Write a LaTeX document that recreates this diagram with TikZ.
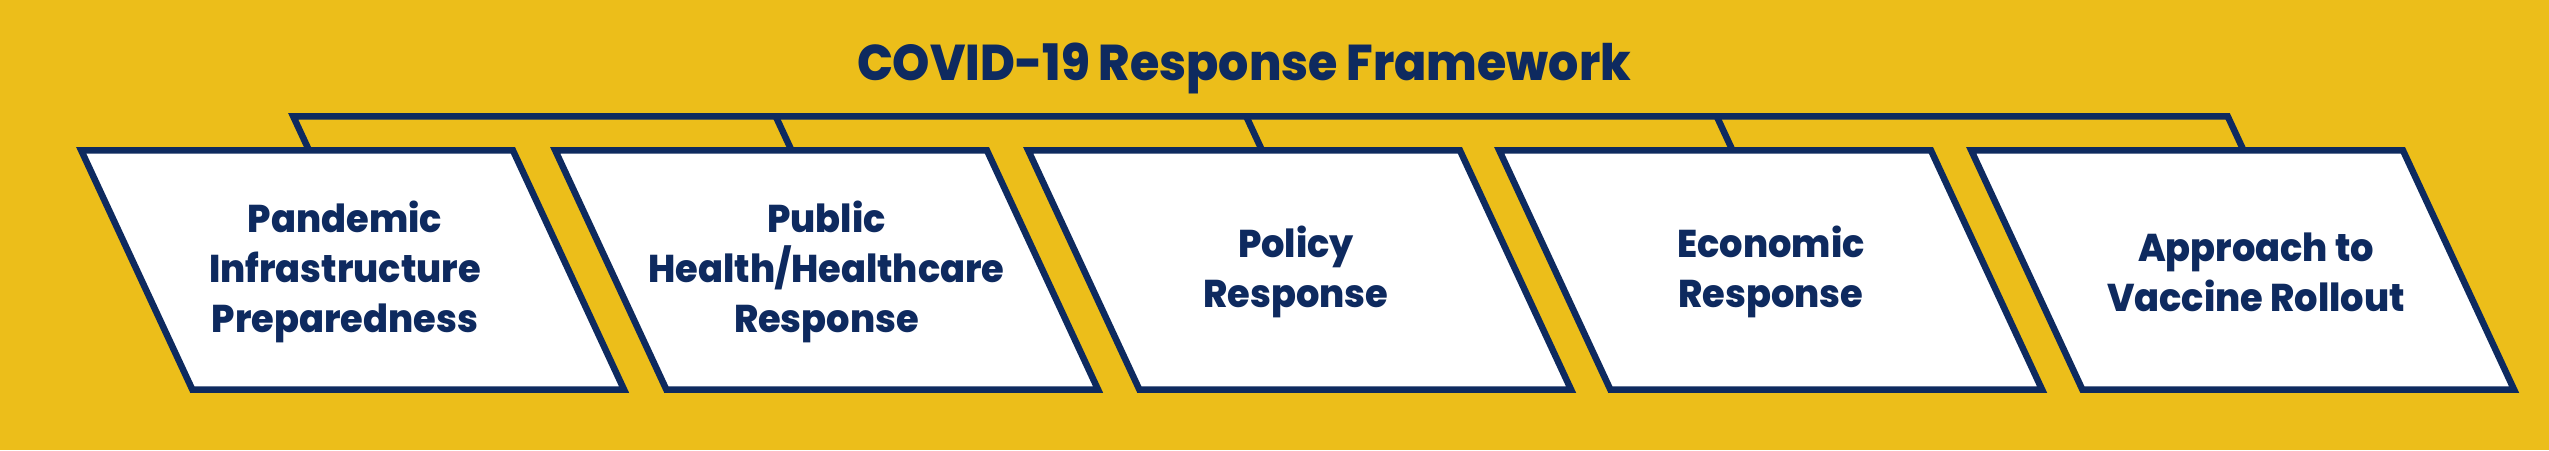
\documentclass[tikz,border=0pt]{standalone}
\usepackage{fontspec}
\setmainfont{Poppins}
\newfontfamily\pillarfont{Poppins ExtraBold}[FakeStretch=0.95]
\newfontfamily\headfont{Poppins ExtraBold}[FakeStretch=0.944]
\definecolor{covidgold}{HTML}{ECBE1A}
\definecolor{covidnavy}{HTML}{0E2A5F}
\tikzset{
  pillar/.style={draw=covidnavy, line width=1.85pt, fill=white},
  link/.style={draw=covidnavy, line width=1.85pt},
  pillartext/.style={text=covidnavy, align=center,
    font=\pillarfont\fontsize{11}{14.2}\selectfont},
  headtext/.style={text=covidnavy, font=\headfont\fontsize{14.3}{16}\selectfont}
}
\begin{document}
\begin{tikzpicture}[x=0.01cm, y=-0.01cm]
\useasboundingbox (0,0) rectangle (2549,450);
\fill[covidgold] (0,0) rectangle (2549,450);

\node[headtext, anchor=base] (title) at (1244, 80) {COVID-19 Response Framework};

\coordinate (bar1) at (293.2, 116.3);
\coordinate (bar2) at (775.7, 116.3);
\coordinate (bar3) at (1246.2, 116.3);
\coordinate (bar4) at (1716.7, 116.3);
\coordinate (bar5) at (2227.7, 116.3);
\coordinate (top1) at (309, 150.3);
\coordinate (top2) at (791.5, 150.3);
\coordinate (top3) at (1262, 150.3);
\coordinate (top4) at (1732.5, 150.3);
\coordinate (top5) at (2243.5, 150.3);

\draw[link] (top1) -- (bar1) -- (bar5) -- (top5);
\draw[link] (bar2) -- (top2);
\draw[link] (bar3) -- (top3);
\draw[link] (bar4) -- (top4);

\draw[pillar] (81.2, 150.3) -- ++(431.7, 0) -- ++(111.2, 239.4) -- ++(-431.7, 0) -- cycle;
\draw[pillar] (555.2, 150.3) -- ++(431.7, 0) -- ++(111.2, 239.4) -- ++(-431.7, 0) -- cycle;
\draw[pillar] (1028.2, 150.3) -- ++(431.7, 0) -- ++(111.2, 239.4) -- ++(-431.7, 0) -- cycle;
\draw[pillar] (1499.2, 150.3) -- ++(431.7, 0) -- ++(111.2, 239.4) -- ++(-431.7, 0) -- cycle;
\draw[pillar] (1971.2, 150.3) -- ++(431.7, 0) -- ++(111.2, 239.4) -- ++(-431.7, 0) -- cycle;

\node[pillartext] (infra) at (345, 272) {Pandemic\\Infrastructure\\Preparedness};
\node[pillartext] (health) at (826.5, 272) {Public\\Health/Healthcare\\Response};
\node[pillartext] (policy) at (1296, 272) {Policy\\Response};
\node[pillartext] (economy) at (1771, 272) {Economic\\Response};
\node[pillartext] (vaccine) at (2256, 272) {Approach to\\Vaccine Rollout};

\end{tikzpicture}
\end{document}
